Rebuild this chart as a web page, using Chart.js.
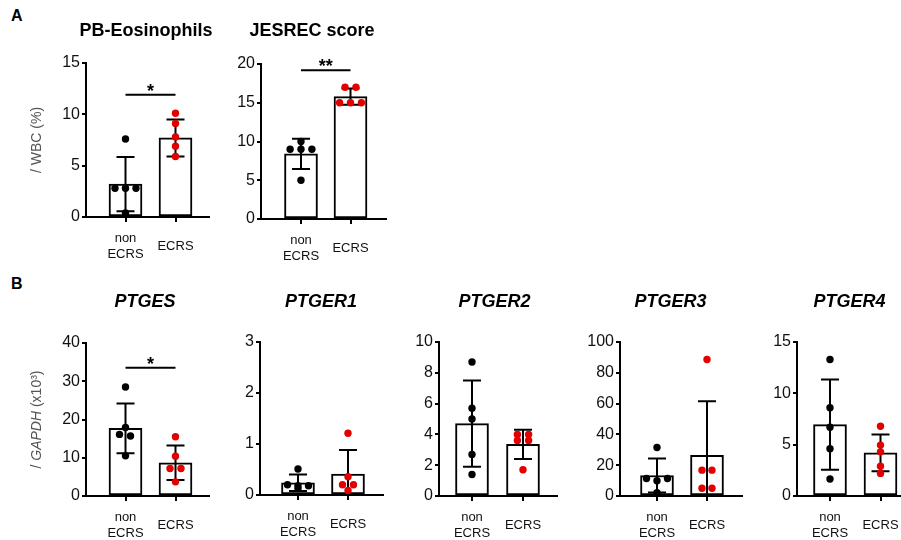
<!DOCTYPE html>
<html>
<head>
<meta charset="utf-8">
<script src="https://cdn.jsdelivr.net/npm/chart.js@4.4.1/dist/chart.umd.min.js"></script>
<style>
  html, body { margin: 0; padding: 0; background: #fff; }
  #fig { position: relative; width: 901px; height: 540px; overflow: hidden; font-family: "Liberation Sans", Arial, sans-serif; }
  #fig canvas { position: absolute; }
  .tag { position: absolute; font-weight: bold; font-size: 16px; line-height: 16px; color: #000; }
</style>
</head>
<body>
<div id="fig">
  <div class="tag" style="left:11px; top:8px;">A</div>
  <div class="tag" style="left:11px; top:276px;">B</div>
</div>
<script>
const groups = ['non ECRS', 'ECRS'];

// A: PB-Eosinophils (/ WBC %)
const eosTicks = [0, 5, 10, 15];
const eosMean = [3.2, 7.7];
const eosSd = [2.65, 1.8];
const eosNon = [7.6, 2.8, 2.8, 2.8, 0.4];
const eosEcrs = [10.1, 9.1, 7.8, 6.9, 5.9];
const eosSig = { y: 11.9, text: '*' };

// A: JESREC score
const jesTicks = [0, 5, 10, 15, 20];
const jesMean = [8.4, 15.8];
const jesSd = [1.95, 1.05];
const jesNon = [10, 9, 9, 9, 5];
const jesEcrs = [17, 17, 15, 15, 15];
const jesSig = { y: 19.2, text: '**' };

// B: / GAPDH (x10^3)
const ptgesTicks = [0, 10, 20, 30, 40];
const ptgesMean = [17.7, 8.7];
const ptgesSd = [6.5, 4.5];
const ptgesNon = [28.5, 17.9, 16.1, 15.7, 10.5];
const ptgesEcrs = [15.5, 10.4, 7.2, 7.2, 3.7];
const ptgesSig = { y: 33.5, text: '*' };

const ptger1Ticks = [0, 1, 2, 3];
const ptger1Mean = [0.24, 0.41];
const ptger1Sd = [0.16, 0.47];
const ptger1Non = [0.51, 0.2, 0.18, 0.18, 0.13];
const ptger1Ecrs = [1.21, 0.36, 0.2, 0.2, 0.09];

const ptger2Ticks = [0, 2, 4, 6, 8, 10];
const ptger2Mean = [4.7, 3.36];
const ptger2Sd = [2.8, 0.95];
const ptger2Non = [8.7, 5.7, 5.0, 2.7, 1.4];
const ptger2Ecrs = [4.0, 4.0, 3.6, 3.6, 1.7];

const ptger3Ticks = [0, 20, 40, 60, 80, 100];
const ptger3Mean = [13.3, 26.4];
const ptger3Sd = [11, 35.2];
const ptger3Non = [31.5, 11.4, 9.9, 11.4, 2.2];
const ptger3Ecrs = [88.6, 16.8, 16.8, 5, 5];

const ptger4Ticks = [0, 5, 10, 15];
const ptger4Mean = [6.95, 4.2];
const ptger4Sd = [4.4, 1.8];
const ptger4Non = [13.3, 8.6, 6.7, 4.6, 1.65];
const ptger4Ecrs = [6.8, 4.96, 4.3, 2.9, 2.2];

const FONT = '"Liberation Sans", Arial, sans-serif';
Chart.defaults.font.family = FONT;

const wbcTitle = [{ t: '/ WBC (%)' }];
const gapdhTitle = [{ t: '/ ' }, { t: 'GAPDH', it: true }, { t: ' (x10³)' }];

// panel placement (page px): plot area box, the two group centres, title centre
const panels = [
  { title: 'PB-Eosinophils', it: false, row: 0, tx: 146, left: 86, top: 63, right: 209, bottom: 217, c0: 125.5, c1: 175.5, yW: 86,
    ticks: eosTicks, mean: eosMean, sd: eosSd, non: eosNon, ecrs: eosEcrs, sig: eosSig, yTitle: wbcTitle,
    jit: [[0, -0.21, 0, 0.21, 0], [0, 0, 0, 0, 0]] },
  { title: 'JESREC score', it: false, row: 0, tx: 312, left: 261, top: 64, right: 386, bottom: 219, c0: 301, c1: 350.5, yW: 40,
    ticks: jesTicks, mean: jesMean, sd: jesSd, non: jesNon, ecrs: jesEcrs, sig: jesSig,
    jit: [[0, -0.22, 0, 0.22, 0], [-0.11, 0.11, -0.22, 0, 0.22]] },
  { title: 'PTGES', it: true, row: 1, tx: 145, left: 86, top: 343, right: 209, bottom: 496, c0: 125.5, c1: 175.5, yW: 86,
    ticks: ptgesTicks, mean: ptgesMean, sd: ptgesSd, non: ptgesNon, ecrs: ptgesEcrs, sig: ptgesSig, yTitle: gapdhTitle,
    jit: [[0, 0, -0.12, 0.1, 0], [0, 0, -0.11, 0.11, 0]] },
  { title: 'PTGER1', it: true, row: 1, tx: 321, left: 260, top: 342, right: 383, bottom: 495, c0: 298, c1: 348, yW: 40,
    ticks: ptger1Ticks, mean: ptger1Mean, sd: ptger1Sd, non: ptger1Non, ecrs: ptger1Ecrs,
    jit: [[0, -0.21, 0, 0.21, 0], [0, 0, -0.11, 0.11, 0]] },
  { title: 'PTGER2', it: true, row: 1, tx: 494.5, left: 439, top: 342, right: 557, bottom: 496, c0: 472, c1: 523, yW: 40,
    ticks: ptger2Ticks, mean: ptger2Mean, sd: ptger2Sd, non: ptger2Non, ecrs: ptger2Ecrs,
    jit: [[0, 0, 0, 0, 0], [-0.11, 0.11, -0.11, 0.11, 0]] },
  { title: 'PTGER3', it: true, row: 1, tx: 670.5, left: 620, top: 342, right: 742, bottom: 496, c0: 657, c1: 707, yW: 40,
    ticks: ptger3Ticks, mean: ptger3Mean, sd: ptger3Sd, non: ptger3Non, ecrs: ptger3Ecrs,
    jit: [[0, -0.21, 0, 0.21, 0], [0, -0.1, 0.1, -0.1, 0.1]] },
  { title: 'PTGER4', it: true, row: 1, tx: 849.5, left: 797, top: 342, right: 920, bottom: 496, c0: 830, c1: 880.5, yW: 40,
    ticks: ptger4Ticks, mean: ptger4Mean, sd: ptger4Sd, non: ptger4Non, ecrs: ptger4Ecrs,
    jit: [[0, 0, 0, 0, 0], [0, 0, 0, 0, 0]] }
];

const rowTop = [0, 270];
const titleY = [31, 302.5];
const H = 270;

function makeDecor(p, cLeft, cTop) {
  return {
    id: 'decor',
    afterDatasetDraw(chart, args) {
      if (args.index !== 0) return;
      const { ctx, chartArea: a, scales: { x, y } } = chart;
      ctx.save();
      ctx.beginPath();
      ctx.rect(a.left, a.top - 20, a.width, a.height + 20);
      ctx.clip();
      ctx.strokeStyle = '#000';
      ctx.lineWidth = 2;
      const cap = 18;
      p.mean.forEach((m, i) => {
        const px = x.getPixelForValue(i);
        const hi = y.getPixelForValue(m + p.sd[i]);
        const loV = m - p.sd[i];
        const lo = y.getPixelForValue(Math.max(loV, y.min));
        ctx.beginPath();
        ctx.moveTo(px, hi); ctx.lineTo(px, lo);
        ctx.moveTo(px - cap / 2, hi); ctx.lineTo(px + cap / 2, hi);
        if (loV > y.min) { ctx.moveTo(px - cap / 2, lo); ctx.lineTo(px + cap / 2, lo); }
        ctx.stroke();
      });
      ctx.restore();
    },
    afterDraw(chart) {
      const { ctx, chartArea: a, scales: { x, y } } = chart;
      ctx.save();
      ctx.fillStyle = '#000';
      ctx.font = (p.it ? 'italic ' : '') + 'bold 18px ' + FONT;
      ctx.textAlign = 'center';
      ctx.textBaseline = 'middle';
      ctx.fillText(p.title, p.tx - cLeft, titleY[p.row] - cTop);

      if (p.sig) {
        const x0 = x.getPixelForValue(0), x1 = x.getPixelForValue(1);
        const sy = y.getPixelForValue(p.sig.y);
        ctx.strokeStyle = '#000';
        ctx.lineWidth = 2;
        ctx.beginPath();
        ctx.moveTo(x0, sy); ctx.lineTo(x1, sy);
        ctx.stroke();
        ctx.font = 'bold 18px ' + FONT;
        ctx.textBaseline = 'alphabetic';
        ctx.fillText(p.sig.text, (x0 + x1) / 2, sy + 2);
      }

      if (p.yTitle) {
        ctx.fillStyle = '#555';
        ctx.textAlign = 'left';
        ctx.textBaseline = 'middle';
        ctx.translate(37 - cLeft, (a.top + a.bottom) / 2);
        ctx.rotate(-Math.PI / 2);
        const fontOf = s => (s.it ? 'italic ' : '') + '14px ' + FONT;
        let total = 0;
        p.yTitle.forEach(s => { ctx.font = fontOf(s); total += ctx.measureText(s.t).width; });
        let cx = -total / 2;
        p.yTitle.forEach(s => {
          ctx.font = fontOf(s);
          ctx.fillText(s.t, cx, 0);
          cx += ctx.measureText(s.t).width;
        });
      }
      ctx.restore();
    }
  };
}

const fig = document.getElementById('fig');

panels.forEach(p => {
  const cv = document.createElement('canvas');
  const cLeft = Math.min(p.left - p.yW, p.tx - 80);
  const yW = p.left - cLeft;
  const cTop = rowTop[p.row];
  const W = yW + (p.right - p.left) + 10;
  cv.width = W; cv.height = H;
  cv.style.left = cLeft + 'px';
  cv.style.top = cTop + 'px';
  cv.style.width = W + 'px';
  cv.style.height = H + 'px';
  fig.appendChild(cv);

  const unit = p.c1 - p.c0;
  const xMin = -(p.c0 - p.left) / unit;
  const xMax = xMin + (p.right - p.left) / unit;
  const xH = H - (p.bottom - cTop);

  new Chart(cv, {
    type: 'bar',
    data: {
      datasets: [
        {
          type: 'bar',
          data: p.mean.map((m, i) => ({ x: i, y: m })),
          backgroundColor: '#fff',
          borderColor: '#000',
          borderWidth: 2,
          borderSkipped: false,
          barThickness: 33,
          order: 3
        },
        {
          type: 'scatter',
          data: p.non.map((v, i) => ({ x: 0 + p.jit[0][i], y: v })),
          pointRadius: 3.7,
          pointBackgroundColor: '#000',
          pointBorderWidth: 0,
          order: 2
        },
        {
          type: 'scatter',
          data: p.ecrs.map((v, i) => ({ x: 1 + p.jit[1][i], y: v })),
          pointRadius: 3.7,
          pointBackgroundColor: '#e30000',
          pointBorderWidth: 0,
          order: 1
        }
      ]
    },
    options: {
      responsive: false,
      animation: false,
      events: [],
      layout: { padding: { top: p.top - cTop, right: 10, bottom: 0, left: 0 } },
      plugins: { legend: { display: false }, tooltip: { enabled: false } },
      scales: {
        x: {
          type: 'linear',
          min: xMin,
          max: xMax,
          offset: false,
          afterBuildTicks: s => { s.ticks = groups.map((g, i) => ({ value: i })); },
          afterFit: s => { s.height = xH; },
          grid: { offset: false, drawOnChartArea: false, drawTicks: true, tickLength: 5, color: '#000', lineWidth: 2 },
          border: { display: true, color: '#000', width: 2 },
          ticks: {
            callback: (v, i) => groups[i].split(' '),
            font: { size: 13, lineHeight: 1.3 },
            color: '#111',
            padding: 16,
            crossAlign: 'center',
            maxRotation: 0,
            autoSkip: false
          }
        },
        y: {
          min: p.ticks[0],
          max: p.ticks[p.ticks.length - 1],
          afterBuildTicks: s => { s.ticks = p.ticks.map(v => ({ value: v })); },
          afterFit: s => { s.width = yW; },
          grid: { drawOnChartArea: false, drawTicks: true, tickLength: 4, color: '#000', lineWidth: 2 },
          border: { display: true, color: '#000', width: 2 },
          ticks: { font: { size: 16 }, color: '#111', padding: 2 }
        }
      }
    },
    plugins: [makeDecor(p, cLeft, cTop)]
  });
});
</script>
</body>
</html>
